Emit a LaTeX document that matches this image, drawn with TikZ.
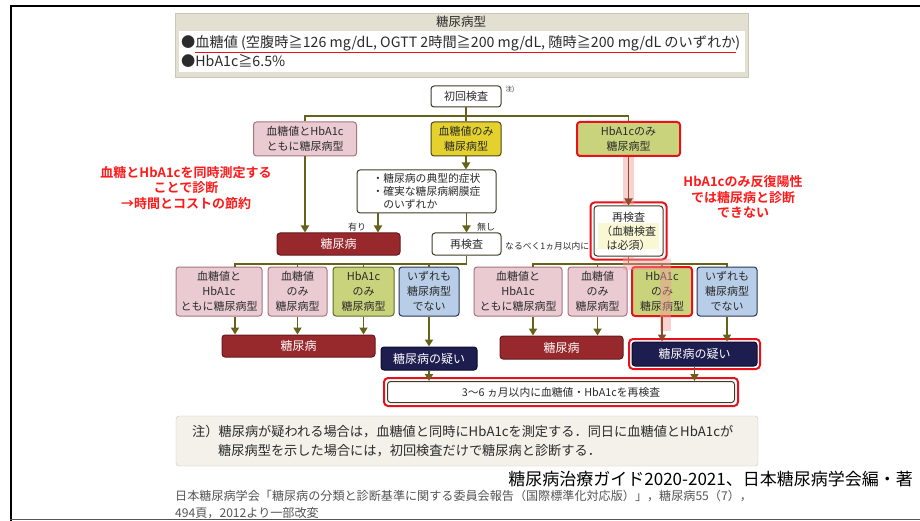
\documentclass[tikz,border=0pt]{standalone}
\usepackage{fontspec}
\setmainfont{Noto Sans CJK JP}[BoldFont={Noto Sans CJK JP Bold}]
\usetikzlibrary{arrows.meta,calc}
\definecolor{txt}{HTML}{2B2B2B}
\definecolor{lineC}{HTML}{66621A}
\definecolor{brownC}{HTML}{8A4A2C}
\definecolor{pinkF}{HTML}{EACBD1}
\definecolor{pinkD}{HTML}{A87482}
\definecolor{yelF}{HTML}{E4D12E}
\definecolor{yelD}{HTML}{4A4616}
\definecolor{grnF}{HTML}{C8D37B}
\definecolor{grnD}{HTML}{5F6D25}
\definecolor{bluF}{HTML}{B8CDE7}
\definecolor{bluD}{HTML}{2A3553}
\definecolor{dredF}{HTML}{97282C}
\definecolor{dredD}{HTML}{651A1C}
\definecolor{navyF}{HTML}{1E1D4F}
\definecolor{navyD}{HTML}{0E0D2A}
\definecolor{boxD}{HTML}{3F3B22}
\definecolor{hred}{HTML}{E8101A}
\definecolor{rtext}{HTML}{FF1A1A}
\definecolor{beige}{HTML}{E4E0D1}
\definecolor{noteF}{HTML}{F3F1EA}
\definecolor{noteD}{HTML}{CBC7B8}
\definecolor{bandC}{HTML}{F29A9A}
\definecolor{paleY}{HTML}{FAF7D5}
\definecolor{citeC}{HTML}{555555}
\newcommand\fsz[2]{\fontsize{#1}{#2}\selectfont}
\tikzset{
  conn/.style={draw=lineC, line width=1.8pt},
  arr/.style={conn, -{Triangle[length=7pt,width=8pt]}},
  brarr/.style={draw=brownC, line width=1.8pt, -{Triangle[length=7pt,width=8pt]}},
  bx/.style={rounded corners=3pt, line width=1pt, align=center, inner sep=0pt, text=txt, font=\fsz{11}{15}},
  pinkbox/.style={bx, draw=pinkD, fill=pinkF},
  yelbox/.style={bx, draw=yelD, fill=yelF},
  grnbox/.style={bx, draw=grnD, fill=grnF},
  blubox/.style={bx, draw=bluD, fill=bluF},
  whbox/.style={bx, draw=boxD, fill=white},
  dredbox/.style={bx, draw=dredD, fill=dredF, text=white, font=\fsz{12}{14}},
  navybox/.style={bx, draw=navyD, fill=navyF, text=white, font=\fsz{12}{14}},
  redring/.style={draw=hred, line width=2pt, rounded corners=4pt},
  lbl/.style={inner sep=0pt, text=txt},
  anno/.style={inner sep=0pt, text=rtext, align=center, font=\bfseries\fsz{13}{15.5}},
  band/.style={draw=bandC, line width=11pt, opacity=0.45},
}
\begin{document}
\begin{tikzpicture}[x=1pt,y=-1pt]
\useasboundingbox (0,0) rectangle (920,521);
\fill[white] (0,0) rectangle (920,521);
% frame
\draw[black, line width=2.2pt] (11,521) -- (11,6) -- (920,6);
\draw[citeC, line width=1.2pt] (10,519.5) -- (920,519.5);

% top definition box
\node[draw=noteD, fill=beige, minimum width=573, minimum height=64, inner sep=0pt] (topbox) at (461.5,45) {};
\node[fill=white, minimum width=566, minimum height=41, inner sep=0pt] (topin) at (461.5,52) {};
\node[lbl, font=\fsz{12.5}{14}] (toptitle) at (461,22) {糖尿病型};
\node[lbl, anchor=west, font=\fsz{14.2}{16}] (topl1) at (181,43) {●血糖値 (空腹時≧126 mg/dL, OGTT 2時間≧200 mg/dL, 随時≧200 mg/dL のいずれか)};
\node[lbl, anchor=west, font=\fsz{14.2}{16}] (topl2) at (181,61) {●HbA1c≧6.5\%};
\draw[hred, line width=1.4pt] (195,52.5) -- (736,52.5);

% first level
\node[whbox, minimum width=70, minimum height=21] (init) at (466,96.5) {初回検査};
\node[lbl, font=\fsz{6.5}{8}] (note) at (510,89) {注)};
\node[pinkbox, minimum width=103, minimum height=34] (p1) at (305,139) {血糖値とHbA1c\\ともに糖尿病型};
\node[yelbox, minimum width=70, minimum height=34] (yl) at (466,139) {血糖値のみ\\糖尿病型};
\node[grnbox, draw=hred, line width=2pt, minimum width=103, minimum height=34] (gr) at (628.5,139) {HbA1cのみ\\糖尿病型};
\coordinate (h1) at (466,116);
\draw[conn] (init.south) -- (yl.north);
\draw[conn] (p1.north) -- (p1.north |- h1) -- (gr.north |- h1) -- (gr.north);

\node[whbox, minimum width=139, minimum height=43, align=left, font=\fsz{10.8}{13}] (bul) at (426.5,191.5) {・糖尿病の典型的症状\\・確実な糖尿病網膜症\\\hspace*{1em}のいずれか};
\node[dredbox, minimum width=123, minimum height=22] (dm1) at (338.5,244) {糖尿病};
\node[whbox, minimum width=69, minimum height=22] (rk1) at (466.5,244) {再検査};
\node[lbl, anchor=west, font=\fsz{8.8}{11}] (soon) at (505,246) {なるべく1ヵ月以内に};
\node[lbl, font=\fsz{9}{11}] (yes) at (357,227) {有り};
\node[lbl, font=\fsz{9}{11}] (no) at (486,227) {無し};

% right re-test box
\node[whbox, minimum width=69, minimum height=50] (rk2) at (628.5,231) {};
\fill[paleY] (598,223) rectangle (659,249);
\node[lbl, align=center, font=\fsz{11}{14}] (rk2t) at (628.5,231) {再検査\\（血糖検査\\は必須）};
\draw[redring] ([shift={(-3,-3)}]rk2.north west) rectangle ([shift={(3,3)}]rk2.south east);

% arrows first level
\draw[arr] (p1.south) -- (p1.south |- dm1.north);
\draw[arr] (yl.south) -- (yl.south |- bul.north);
\draw[arr] ([xshift=-48.5]bul.south) -- ([xshift=-48.5]bul.south |- dm1.north);
\draw[arr] (bul.south -| rk1.north) -- (rk1.north);

% second row
\node[pinkbox, minimum width=86, minimum height=49] (A) at (219,291.5) {血糖値と\\HbA1c\\ともに糖尿病型};
\node[pinkbox, minimum width=59, minimum height=49] (B) at (297.5,291.5) {血糖値\\のみ\\糖尿病型};
\node[grnbox, minimum width=61, minimum height=49] (C) at (363.5,291.5) {HbA1c\\のみ\\糖尿病型};
\node[blubox, minimum width=60, minimum height=49] (D) at (429,291.5) {いずれも\\糖尿病型\\でない};
\node[pinkbox, minimum width=88, minimum height=49] (E) at (518,291.5) {血糖値と\\HbA1c\\ともに糖尿病型};
\node[pinkbox, minimum width=59, minimum height=49] (F) at (597.5,291.5) {血糖値\\のみ\\糖尿病型};
\node[grnbox, draw=hred, line width=2pt, minimum width=60, minimum height=49] (G) at (662,291.5) {HbA1c\\のみ\\糖尿病型};
\node[blubox, minimum width=60, minimum height=49] (H) at (727,291.5) {いずれも\\糖尿病型\\でない};

\coordinate (h2) at (0,264);
\draw[conn] (rk1.south) -- (rk1.south |- h2) -- ([xshift=16]A.north |- h2) -- ([xshift=16]A.north);
\draw[conn] (B.north) -- (B.north |- h2);
\draw[conn] (C.north) -- (C.north |- h2);
\draw[conn] (D.north) -- (D.north |- h2);
\draw[conn] ([xshift=15]E.north) -- ([xshift=15]E.north |- h2) -- (H.north |- h2) -- (H.north);
\draw[conn] (rk2.south) -- (rk2.south |- h2);
\draw[conn] (F.north) -- (F.north |- h2);
\draw[conn] (G.north) -- (G.north |- h2);

% results
\node[dredbox, minimum width=153, minimum height=22] (dm2L) at (298.5,346) {糖尿病};
\node[navybox, minimum width=96, minimum height=23] (dsL) at (429,358.5) {糖尿病の疑い};
\node[dredbox, minimum width=123, minimum height=23] (dm2R) at (561.5,347.5) {糖尿病};
\node[navybox, minimum width=125, minimum height=24] (dsR) at (694.5,354) {糖尿病の疑い};
\draw[redring] ([shift={(-2.5,-2.5)}]dsR.north west) rectangle ([shift={(2.5,2.5)}]dsR.south east);
\node[whbox, minimum width=347, minimum height=21, font=\fsz{10.8}{13}] (bot) at (561,392) {3～6 ヵ月以内に血糖値・HbA1cを再検査};
\draw[redring] ([shift={(-3,-3)}]bot.north west) rectangle ([shift={(3,3)}]bot.south east);

\draw[arr] ([xshift=16]A.south) -- ([xshift=16]A.south |- dm2L.north);
\draw[arr] (B.south) -- (B.south |- dm2L.north);
\draw[arr] (C.south) -- (C.south |- dm2L.north);
\draw[arr] (D.south) -- (D.south |- dsL.north);
\draw[arr] (dsL.south) -- (dsL.south |- bot.north);
\draw[arr] ([xshift=15]E.south) -- ([xshift=15]E.south |- dm2R.north);
\draw[arr] (F.south) -- (F.south |- dm2R.north);
\draw[arr] (H.south) -- (H.south |- dsR.north);
\draw[arr] (dsR.south) -- (dsR.south |- bot.north);

% highlight band
\draw[band] (gr.south) -- (rk2.north);
\draw[band, line join=miter] (rk2.south) -- (rk2.south |- h2) -- ([xshift=3]G.north |- h2) -- ([xshift=3,yshift=-14]G.south);
\draw[brarr] (gr.south) -- (rk2.north);
\draw[brarr] (G.south) -- (G.south |- dsR.north);

% annotations
\node[anno] (annoL) at (186,188) {血糖とHbA1cを同時測定する\\ことで診断\\→時間とコストの節約};
\node[anno] (annoR) at (743,197) {HbA1cのみ反復陽性\\では糖尿病と診断\\できない};

% note box
\node[draw=noteD, fill=noteF, rounded corners=3pt, minimum width=582, minimum height=50, inner sep=0pt] (notes) at (467,441) {};
\node[lbl, anchor=west, font=\fsz{13.2}{15}] (n1) at (192,432) {注）糖尿病が疑われる場合は，血糖値と同時にHbA1cを測定する．同日に血糖値とHbA1cが};
\node[lbl, anchor=west, font=\fsz{13.2}{15}] (n2) at (218,451) {糖尿病型を示した場合には，初回検査だけで糖尿病と診断する．};

% source
\node[inner sep=0pt, anchor=east, text=black, font=\fsz{17}{19}] (src) at (913,479) {糖尿病治療ガイド2020-2021、日本糖尿病学会編・著};
\node[inner sep=0pt, anchor=west, text=citeC, font=\fsz{12.1}{15}] (cite1) at (175,496) {日本糖尿病学会「糖尿病の分類と診断基準に関する委員会報告（国際標準化対応版）」，糖尿病55（7），};
\node[inner sep=0pt, anchor=west, text=citeC, font=\fsz{12.1}{15}] (cite2) at (175,513) {494頁，2012より一部改変};
\end{tikzpicture}
\end{document}
